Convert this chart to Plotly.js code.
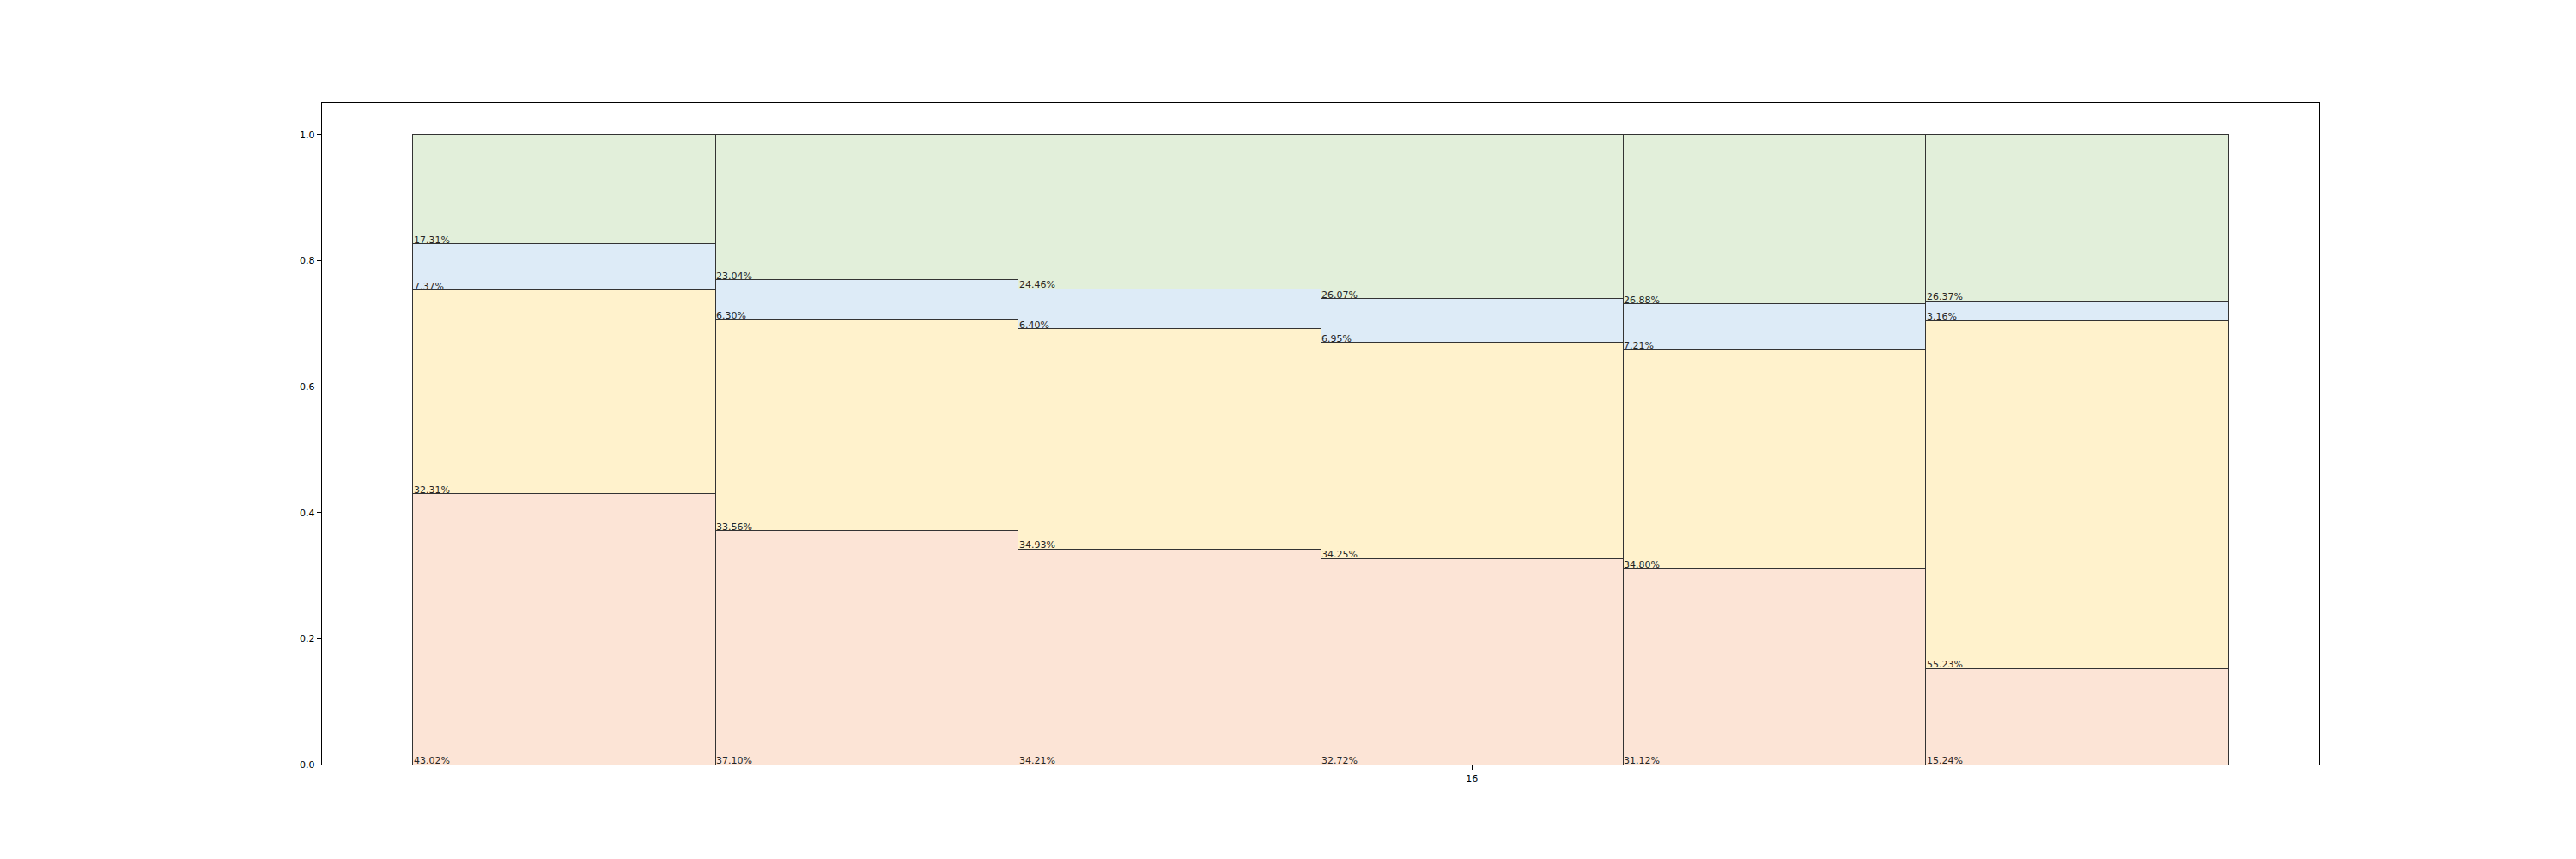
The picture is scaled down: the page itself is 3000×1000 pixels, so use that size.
<!DOCTYPE html>
<html>
<head>
<meta charset="utf-8">
<script src="https://cdn.plot.ly/plotly-3.0.1.min.js"></script>
<style>html,body{margin:0;padding:0;background:#fff;}#chart{width:3000px;height:1000px;}</style>
</head>
<body>
<div id="chart"></div>
<script>
// Data (percent shares per column, bottom to top)
const columns = [13, 14, 15, 16, 17, 18];
const seriesNames = ["s1", "s2", "s3", "s4"];
const s1 = [43.02, 37.10, 34.21, 32.72, 31.12, 15.24];
const s2 = [32.31, 33.56, 34.93, 34.25, 34.80, 55.23];
const s3 = [7.37, 6.30, 6.40, 6.95, 7.21, 3.16];
const s4 = [17.31, 23.04, 24.46, 26.07, 26.88, 26.37];
const xTickVals = [16];
const xTickText = ["16"];
const yTickVals = [0, 0.2, 0.4, 0.6, 0.8, 1.0];

const series = [s1, s2, s3, s4];
const colors = ["#FCE4D6", "#FFF2CC", "#DDEBF7", "#E2EFDA"];

const traces = series.map((vals, i) => ({
  type: "bar",
  name: seriesNames[i],
  x: columns,
  y: vals.map(v => v / 100),
  width: columns.map(() => 1),
  marker: {color: colors[i], line: {color: "#333333", width: 1}},
  hoverinfo: "skip",
  showlegend: false
}));

const annotations = [];
columns.forEach((c, j) => {
  let base = 0;
  series.forEach(vals => {
    annotations.push({
      x: c - 0.5, y: base, xref: "x", yref: "y",
      text: vals[j].toFixed(2) + "%",
      showarrow: false, xanchor: "left", yanchor: "bottom",
      yshift: -3, borderpad: 0,
      font: {family: "DejaVu Sans", size: 11, color: "#262626"}
    });
    base += vals[j] / 100;
  });
});

const layout = {
  width: 3000, height: 1000,
  paper_bgcolor: "#ffffff", plot_bgcolor: "#ffffff",
  margin: {l: 375, r: 299, t: 120, b: 110, pad: 0},
  barmode: "stack", bargap: 0,
  showlegend: false,
  font: {family: "DejaVu Sans", size: 11, color: "#000000"},
  xaxis: {
    range: [12.2, 18.8], tickvals: xTickVals, ticktext: xTickText,
    ticks: "outside", ticklen: 5, tickcolor: "#000", tickwidth: 1,
    showgrid: false, zeroline: false, showline: true, linecolor: "#000", linewidth: 1.3, mirror: true,
    tickfont: {family: "DejaVu Sans", size: 11, color: "#000"}
  },
  yaxis: {
    range: [0, 1.05], tickvals: yTickVals, tickformat: ".1f",
    ticks: "outside", ticklen: 5, tickcolor: "#000", tickwidth: 1,
    showgrid: false, zeroline: false, showline: true, linecolor: "#000", linewidth: 1.3, mirror: true,
    tickfont: {family: "DejaVu Sans", size: 11, color: "#000"}
  },
  annotations: annotations
};

Plotly.newPlot("chart", traces, layout, {displayModeBar: false, staticPlot: true});
</script>
</body>
</html>
